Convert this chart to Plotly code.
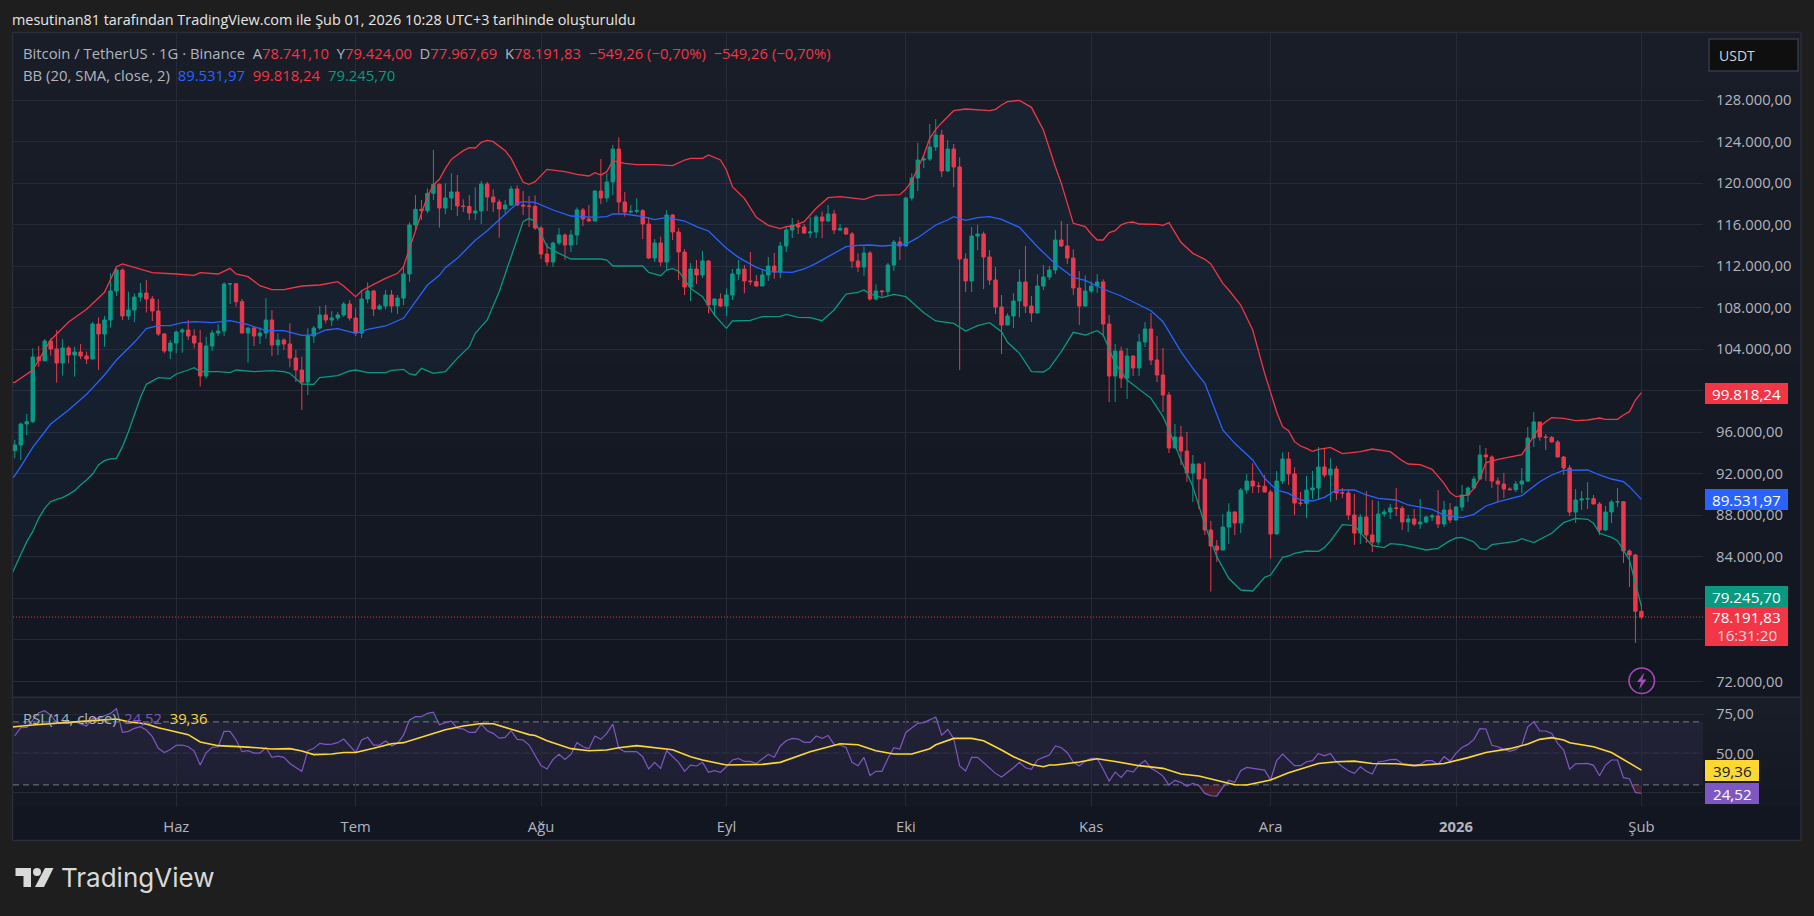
import pandas as pd
import plotly.graph_objects as go

FIRST_DAY = "2025-05-05"
LAST_DAY = "2026-02-01"
first_open = 94220

closes = [
94766,96789,97014,103243,102890,104785,104014,102665,104110,103436,
103725,103340,103051,106422,105459,106808,109601,111624,107193,107771,
109023,109409,108831,107675,105459,103821,104592,105652,105844,105266,
104592,101413,104303,105555,105748,110275,110308,108574,105555,106037,
105266,105555,106808,104399,104881,104496,103147,101991,100835,105266,
106037,107289,106808,107000,107289,108349,107000,105555,108831,109601,
107867,108156,109216,108156,108927,111239,115959,117468,117340,119009,
119876,117596,118559,119137,117789,117740,117114,117307,119908,118656,
118174,117500,117885,119426,117885,117789,117757,115669,113165,112394,
114224,114995,114032,114995,117403,116536,116344,119234,118559,120101,
123279,118174,117211,117275,117339,116055,112779,114224,112394,116922,
115284,113357,109986,111720,111142,112490,108252,108830,108156,109215,
111238,111720,110564,110500,110082,111142,112009,111431,113935,115477,
115958,115766,115188,115284,116729,116344,117018,115477,115637,115091,
112490,111912,113261,108830,109601,109536,112105,114321,113936,118559,
120486,122220,122316,123472,124628,121160,123280,121546,112683,110564,
114899,115091,112876,110660,108059,106325,107192,108637,110468,108156,
107481,110082,110949,111624,114513,113936,112780,109890,108156,109601,
110082,110468,106422,101413,103821,101220,103339,102183,104688,105940,
102954,101509,99582,94477,95536,94188,92069,92936,91491,86578,
85037,84651,86867,88312,87252,90431,91298,90816,90790,90238,
86192,91298,93417,91973,89179,89150,90432,90624,92647,91877,
92455,90143,90143,88023,86289,87831,86097,85423,88120,88312,
88698,88666,87349,87638,87156,87349,87831,87927,87156,88505,
87542,88794,89950,90624,91491,93803,93611,91299,91010,90528,
90464,91010,91299,95441,96982,95537,95500,95056,93611,92551,
88312,89468,89565,89600,89083,86578,88312,89276,89300,84556,
84170,78741.10,78191.83]

highs = [
95248,96918,97753,104078,104303,104977,105042,105844,104977,104303,
104239,104496,103757,106615,107064,107193,111303,111785,111785,109537,
109376,110372,110661,109120,108798,105555,104881,105780,106005,106808,
105909,105844,105202,105844,106422,110436,110372,110340,108831,106101,
106230,106101,108895,107771,105523,105042,106486,103918,103275,106005,
106230,108156,108253,107675,107578,108542,108734,107931,109697,110436,
109697,108349,109697,109697,109216,111945,116200,118849,118367,119491,
123183,119972,119972,120935,120775,118431,118848,119587,120197,120101,
119394,118431,118367,119715,119779,119234,118752,118816,115862,114192,
114353,115669,115156,115477,117660,117596,117885,119330,122316,120935,
123665,124403,119137,117885,118527,117500,116697,114610,114834,117403,
117018,115669,113646,112298,112587,113454,112587,108894,109376,109857,
111720,112587,112105,113357,111142,111623,112876,113261,114321,115862,
116633,116440,116055,116729,116922,117243,117885,117403,116055,115766,
115284,113229,113871,113454,110243,109697,112298,114513,114802,118656,
120935,123890,122702,125688,126169,125110,124146,123761,122477,113229,
115766,115958,115316,113550,111913,109215,107449,109376,111688,113936,
109119,111206,112105,112009,115477,116344,116055,113614,111527,111110,
110532,111238,110725,107289,104495,104238,104110,103403,105458,106614,
107481,105266,104110,99871,96789,96596,96018,93803,93000,93128,
87445,85614,88119,89147,88376,90624,91972,93000,91202,91876,
90431,92261,94059,94092,92615,90239,91780,92262,94574,94478,
93482,92744,90624,90432,90046,88120,90335,89468,89372,88569,
89083,90624,88890,88023,88601,89565,87927,88120,90432,89372,
89179,88890,90913,90753,91780,94767,94478,93771,91652,92069,
90689,91299,92551,96500,97945,96982,95826,95634,95248,93707,
92840,90528,90335,91202,89950,89276,88890,89468,90624,89372,
84716,84267,79424.00]

lows = [
93482,93321,95730,96886,102312,102794,103372,100771,101445,102633,
101349,103051,102569,103019,101991,104239,106069,109120,106808,106808,
106615,108574,107514,106711,105266,103597,103051,103597,103661,104881,
104078,100386,101156,103821,105266,105266,108349,108092,105523,102698,
104303,104496,105009,103340,103436,103918,102248,100835,98138,99583,
104592,105844,106486,106230,106743,107129,106743,105266,105074,108413,
107193,107771,107835,107514,107386,108253,110500,115477,116440,117083,
118367,115701,117018,117403,116825,117211,116440,116440,116055,117307,
117211,114738,117082,117789,117789,116922,115766,115477,112683,112009,
111912,114032,112587,113357,114032,115862,116279,116344,117981,118174,
118848,117082,116761,117082,117082,114610,112683,112394,112009,111623,
114513,110660,109215,108637,110275,110853,107449,107289,108059,107192,
108734,110660,109376,110179,110018,110082,110564,110789,110853,113357,
114706,115091,115091,114706,114706,114706,116247,115091,115380,114995,
111816,111431,111046,108669,108669,109055,109119,111527,112587,113936,
118302,119234,121449,122124,123087,120582,121064,119619,101991,109504,
109504,113550,109793,110179,107385,103532,106293,106036,107064,107481,
106614,107449,109697,110660,111238,113839,112202,109215,106325,108091,
109408,109408,105202,98908,98908,100257,99197,101413,101413,104206,
102472,100835,97945,93995,94477,92839,91202,89275,88601,86096,
80637,83495,84651,85229,86096,86289,90046,90142,90142,90206,
83816,86192,91009,90913,88023,88890,87734,89565,89468,91620,
89276,89468,89661,87542,85134,85230,85326,84459,85134,87831,
87638,87927,86578,86386,86964,86675,87221,87445,86771,86867,
87253,87510,88409,89276,90496,91395,91299,90624,89276,89661,
90400,90239,90111,91202,94574,95184,94285,95023,93578,91877,
87927,87253,88505,88601,89051,86097,86482,87253,88794,83400,
81088,75693,77967.69]

upper_day = [-1,0,3,6,9,12,15,17,18,21,23,27,30,31,34,36,37,39,41,43,45,48,51,54,55,57,58,60,62,64,65,
66,67,68,69,70,71,72,73,75,76,77,78,79,80,82,83,85,86,87,89,92,94,96,97,98,99,100,102,104,107,110,112,113,115,116,118,119,120,122,124,126,128,129,130,132,134,136,138,141,
142,144,148,149,150,151,152,153,154,155,157,159,162,163,164,165,166,168,170,172,174,175,177,179,180,181,182,183,184,185,186,187,188,191,192,193,195,197,199,200,202,203,205,207,209,211,212,
213,214,215,216,217,218,220,222,225,227,230,232,233,235,237,239,240,241,243,244,245,246,248,252,253,254,255,256,257,259,261,263,265,266,268,269,270,271,272]
upper = [100750,100803,101991,104881,106615,107835,109473,111945,112202,111688,111367,111239,111110,111367,111239,111785,111239,110982,110115,109730,109730,110083,110179,110500,110083,109055,109633,110243,110821,111303,111945,
113711,115477,117083,118688,119812,120357,121417,122284,123119,123408,123376,123922,124114,123986,123119,122380,120068,119876,120133,121321,121096,120839,120679,121000,120775,121096,122156,121899,121770,121770,121674,122220,122380,122380,122701,122220,121256,119651,118527,116697,115926,115605,115797,115862,116279,117564,118591,118688,118495,
118431,118816,118880,119394,120229,121417,122702,124307,125174,125816,126972,127133,127036,126972,127101,127518,127839,127968,127293,125110,121578,119972,116119,115798,115091,114513,114513,115220,115413,115968,116183,116247,116055,116023,115926,116183,114289,113229,112651,112202,110339,109697,108252,105844,101669,97977,96532,
96147,95088,94670,94445,94156,94349,94542,93932,94124,94381,94124,93257,92936,92872,92422,91074,90175,89789,89950,90592,91556,93065,93386,93835,94767,95730,96532,97014,97400,97335,97111,97175,97367,97239,97239,97656,97977,99101,99818.24]

basis_day = [-1,0,1,3,6,9,12,15,17,20,22,24,26,28,30,33,35,36,39,42,45,47,48,50,52,54,57,59,62,65,67,69,
71,72,74,76,77,79,81,83,84,85,87,90,93,97,99,100,102,105,107,109,112,114,116,119,121,124,126,130,132,134,136,138,139,141,
143,145,149,151,154,156,157,159,161,163,165,168,171,174,177,179,182,185,188,190,192,195,197,199,202,204,207,209,211,
213,215,217,219,221,224,226,228,231,233,237,239,242,244,246,248,252,255,257,259,263,265,267,269,270,272]
basis = [91200,91812,92679,94542,96789,98138,99647,101509,102954,104656,105973,106262,106262,106551,106647,106551,106679,106743,106358,105780,105780,105523,105330,105363,105844,105973,105523,105908,106230,106968,108574,110179,
111110,111848,112747,113839,114481,115412,116440,117564,118046,118206,118142,117403,116825,116697,116761,117018,117018,116761,116472,116697,116344,115798,115380,113710,112844,111880,111463,111399,111720,112266,112908,113615,113871,114000,
114032,113936,114096,114738,115958,116440,116761,116408,116665,116761,116504,115733,113871,112202,110917,110628,109794,109119,108252,107706,106647,103757,102151,100706,96211,94926,93320,91554,90431,
90111,89468,89372,89725,90432,90432,89950,89629,89468,88987,88569,88023,87767,88088,88890,89276,89886,91234,91877,92326,92358,91877,91491,91235,90753,89531.97]

lower_day = [-1,0,1,2,3,4,5,6,7,8,9,10,11,12,13,14,15,16,17,18,19,20,21,22,23,24,26,27,29,30,31,34,36,37,40,43,45,46,48,50,51,54,56,57,59,62,63,65,66,67,68,70,71,
72,73,74,76,77,79,81,83,85,86,87,89,91,93,97,98,99,100,105,106,108,109,110,111,113,115,117,119,120,123,125,128,129,131,133,135,137,139,141,
142,143,145,147,149,152,154,157,159,161,163,165,166,168,170,172,173,175,177,179,181,182,184,186,188,190,192,193,195,197,199,201,203,205,207,209,210,212,213,
214,216,218,219,220,222,224,226,227,229,230,232,236,238,240,241,242,244,245,246,247,251,252,254,257,259,261,263,264,265,267,268,270,271,272]
lower = [81700,83000,84331,85455,86418,87702,88666,89308,89533,89693,90014,90368,90913,91395,91973,92840,93257,93418,93482,94606,96051,97753,99326,100610,100964,101253,101188,101606,101991,102216,101831,101831,101734,101991,101831,101927,101831,101670,100642,100610,101253,101445,101895,101991,101734,101734,101959,102056,101606,101509,102152,101670,101766,
101830,102473,103115,104238,105523,106807,109537,112908,116280,116601,116279,113871,113229,112683,112651,112683,112587,112009,112009,111399,111078,111623,111752,111527,109857,109055,107289,106004,106711,106775,107128,107160,107353,107064,107032,106743,107770,109311,109472,
109697,109312,108958,109279,109054,107514,106711,106486,105747,106261,106550,105684,104656,103596,101830,101798,102151,103757,105619,105362,105780,105362,102633,101027,100128,99261,97496,96211,93320,90752,87059,84009,81922,80798,80702,82018,82243,83945,84074,
84331,84556,84523,84876,85519,87092,86996,85680,85069,84877,85262,85166,84652,84812,85550,85808,85872,85423,84812,84684,85166,85487,85743,85358,86257,87285,87702,87606,87221,86257,85872,85551,83688,81441,79245.70]

rsi = [
61.2,66.3,66.5,71.2,75.8,77.1,74.3,69.7,69.5,69.1,70.1,68.6,67.4,72.2,72.2,73.9,75.4,78.4,63.3,64.0,65.9,66.9,64.8,60.6,53.2,50.6,52.5,55.1,55.3,54.2,
51.5,42.6,50.4,53.8,54.2,64.0,64.0,58.5,51.1,51.7,50.2,50.2,53.6,47.5,48.3,47.5,43.6,41.1,38.6,51.7,53.2,56.4,55.7,55.9,56.8,59.1,54.9,50.6,58.5,60.2,
55.3,55.3,57.8,54.7,56.4,61.6,71.2,73.3,73.3,75.4,76.2,68.2,69.5,70.5,65.9,65.5,63.3,63.3,68.6,64.4,62.7,59.7,60.2,64.4,58.9,58.5,55.3,
48.9,42.2,40.1,46.2,49.4,46.2,49.4,56.8,54.2,53.0,61.0,58.9,62.7,68.6,53.2,51.1,51.1,51.1,47.9,40.1,44.3,40.5,51.7,47.9,44.3,38.6,42.6,42.0,44.3,38.0,
39.0,38.0,41.5,45.8,46.8,44.9,44.9,43.6,46.8,49.4,47.5,54.7,58.0,59.5,59.1,57.0,57.0,61.0,59.5,61.4,55.7,55.3,53.8,44.3,42.2,47.5,36.0,38.6,38.6,46.8,
53.6,52.8,63.3,66.5,69.1,69.5,71.2,73.1,61.6,65.2,59.5,42.0,38.8,47.5,47.5,44.3,40.9,37.3,35.0,37.7,40.9,44.3,40.9,39.9,45.8,47.5,48.9,
54.7,53.6,50.4,44.5,42.0,45.1,46.8,46.8,39.9,32.4,38.1,34.8,39.2,38.1,42.6,45.4,40.5,38.4,35.6,29.9,32.9,31.6,29.1,31.0,29.5,24.6,23.1,22.9,28.4,32.9,
31.6,39.0,41.1,40.5,40.3,39.4,33.1,45.4,49.6,46.2,42.2,42.2,44.7,45.4,50.0,48.5,50.0,44.7,41.5,39.0,37.3,41.5,38.6,36.9,44.7,45.1,46.0,46.2,43.6,43.0,
42.6,43.0,45.4,45.4,43.0,47.9,45.1,50.0,53.8,55.7,58.9,65.7,65.5,55.1,54.2,52.5,51.3,52.5,55.3,66.9,70.1,64.2,64.2,62.7,56.4,52.1,39.9,43.4,43.6,43.6,
42.4,35.8,42.6,45.8,45.8,34.6,33.9,25.2,24.52]

rsi_ma_day = [-1,0,3,6,9,13,17,19,22,24,29,31,34,39,43,46,48,50,53,55,57,60,63,65,68,72,75,78,80,84,86,
87,89,93,96,99,101,104,107,110,113,115,119,123,125,128,133,138,141,144,147,150,153,154,157,160,162,165,167,170,172,173,
174,178,181,184,188,192,195,198,201,204,206,210,213,218,221,224,227,231,234,239,243,246,250,253,255,257,259,260,264,267,272]
rsi_ma = [66.7,66.9,68.0,69.0,69.7,70.8,71.8,70.1,68.6,66.3,61.9,57.2,54.9,54.0,52.8,53.0,51.5,49.2,49.6,50.6,50.6,53.2,56.1,56.8,60.2,65.0,67.4,69.0,68.8,64.2,61.9,
61.4,58.0,53.0,51.7,52.1,53.6,54.9,53.6,52.3,47.9,45.8,42.6,43.0,43.0,44.3,51.1,56.1,55.5,51.7,49.6,49.6,53.0,55.5,59.5,59.5,58.0,52.1,47.9,43.0,41.5,42.6,
42.6,44.5,46.6,44.9,42.2,40.5,36.9,35.6,32.9,30.1,29.9,33.1,37.7,43.6,44.7,45.1,43.6,43.4,42.2,43.6,47.3,50.6,53.0,55.9,58.9,60.0,58.5,56.8,54.2,50.6,39.36]

# labels that sit under a last-value badge in the reference are left blank
price_ticks = [128000,124000,120000,116000,112000,108000,104000,100000,96000,92000,88000,84000,80000,76000,72000]
price_labels = ["128.000,00","124.000,00","120.000,00","116.000,00","112.000,00","108.000,00","104.000,00","","96.000,00","92.000,00","88.000,00","84.000,00","","","72.000,00"]
rsi_ticks = [75,50,25]
rsi_labels = ["75,00","50,00",""]
month_ticks = ["2025-06-01","2025-07-01","2025-08-01","2025-09-01","2025-10-01","2025-11-01","2025-12-01","2026-01-01","2026-02-01"]
month_labels = ["Haz","Tem","Ağu","Eyl","Eki","Kas","Ara","<b>2026</b>","Şub"]

days = pd.date_range(FIRST_DAY, LAST_DAY)
for name, s, n in [("closes",closes,273),("highs",highs,273),("lows",lows,273),("rsi",rsi,273),
                   ("upper",upper,len(upper_day)),("basis",basis,len(basis_day)),
                   ("lower",lower,len(lower_day)),("rsi_ma",rsi_ma,len(rsi_ma_day))]:
    if len(s) != n:
        raise SystemExit(f"{name} has {len(s)} values, expected {n}")
opens = [first_open] + closes[:-1]
opens[-1] = 78741.10
on_days = lambda idx: [days[0] + pd.Timedelta(days=i) for i in idx]

GREEN, RED, BLUE, PURPLE, YELLOW = "#089981", "#F23645", "#2962FF", "#7E57C2", "#FDD835"
GRID = "#262a36"
TEXT = "#b2b5be"
FONT = "Open Sans"

# pixel helpers (plot box: x 13..1703, y 33..806)
L, R, T, B = 13, 1703, 33, 806
SPLIT = 697.3
px = lambda x: (x - L) / (R - L)
py = lambda y: (B - y) / (B - T)

fig = go.Figure()
xa = dict(xaxis="x", yaxis="y", hoverinfo="skip", showlegend=False)
xb = dict(xaxis="x2", yaxis="y2", hoverinfo="skip", showlegend=False)

# Bollinger bands first, candles on top
fig.add_trace(go.Scatter(x=on_days(lower_day), y=lower, mode="lines", line=dict(color=GREEN, width=1.3), **xa))
fig.add_trace(go.Scatter(x=on_days(upper_day), y=upper, mode="lines", line=dict(color=RED, width=1.3),
                         fill="tonexty", fillcolor="rgba(33,150,243,0.05)", **xa))
fig.add_trace(go.Scatter(x=on_days(basis_day), y=basis, mode="lines", line=dict(color=BLUE, width=1.3), **xa))
fig.add_trace(go.Candlestick(x=days, open=opens, high=highs, low=lows, close=closes,
                             increasing=dict(line=dict(color=GREEN, width=1), fillcolor=GREEN),
                             decreasing=dict(line=dict(color=RED, width=1), fillcolor=RED),
                             whiskerwidth=0, hoverinfo="skip", showlegend=False, xaxis="x", yaxis="y"))

# RSI pane: overbought / oversold shading, then the lines
fig.add_trace(go.Scatter(x=days, y=[30]*len(days), mode="lines", line=dict(width=0), **xb))
fig.add_trace(go.Scatter(x=days, y=[min(v, 30) for v in rsi], mode="lines", line=dict(width=0),
                         fill="tonexty", fillcolor="rgba(242,54,69,0.22)", **xb))
fig.add_trace(go.Scatter(x=days, y=[70]*len(days), mode="lines", line=dict(width=0), **xb))
fig.add_trace(go.Scatter(x=days, y=[max(v, 70) for v in rsi], mode="lines", line=dict(width=0),
                         fill="tonexty", fillcolor="rgba(8,153,129,0.12)", **xb))
fig.add_trace(go.Scatter(x=days, y=rsi, mode="lines", line=dict(color=PURPLE, width=1.2), **xb))
fig.add_trace(go.Scatter(x=on_days(rsi_ma_day), y=rsi_ma, mode="lines", line=dict(color=YELLOW, width=1.6), **xb))

shapes, notes = [], []

def band(y0, y1, c0, c1, n, x0=L, x1=1801):
    for k in range(n):
        t = k / (n - 1)
        col = "rgb(%d,%d,%d)" % tuple(round(a + (b - a) * t) for a, b in zip(c0, c1))
        a, b = y0 + (y1 - y0) * k / n, y0 + (y1 - y0) * (k + 1) / n
        shapes.append(dict(type="rect", xref="paper", yref="paper", x0=px(x0), x1=px(x1), y0=py(a), y1=py(b),
                           fillcolor=col, line=dict(width=0), layer="below"))

TOPC, BOTC = (25, 29, 40), (18, 22, 33)
band(T, SPLIT, TOPC, BOTC, 24)
band(SPLIT, B, TOPC, (20, 24, 35), 6)
band(B, 840, BOTC, BOTC, 2)
shapes.append(dict(type="rect", xref="paper", yref="paper", x0=px(12.5), x1=px(1801), y0=py(32.5), y1=py(840.5),
                   line=dict(color="#2a2d35", width=1.5), fillcolor="rgba(0,0,0,0)", layer="below"))
shapes.append(dict(type="line", xref="paper", yref="paper", x0=px(L), x1=px(1801), y0=py(SPLIT), y1=py(SPLIT),
                   line=dict(color="#2a2e39", width=1.5), layer="below"))
shapes.append(dict(type="rect", xref="paper", yref="y2", x0=0, x1=1, y0=30, y1=70,
                   fillcolor="rgba(126,87,194,0.1)", line=dict(width=0), layer="below"))
for level in (70, 50, 30):
    shapes.append(dict(type="line", xref="paper", yref="y2", x0=0, x1=1, y0=level, y1=level,
                       line=dict(color="#787B86", width=1, dash="6px,4px"), layer="below"))
shapes.append(dict(type="line", xref="paper", yref="y", x0=0, x1=1, y0=closes[-1], y1=closes[-1],
                   line=dict(color=RED, width=1, dash="1px,2px"), layer="above"))

def rect_px(x0, x1, y0, y1, fill, line=None, width=0):
    shapes.append(dict(type="rect", xref="paper", yref="paper", x0=px(x0), x1=px(x1), y0=py(y0), y1=py(y1),
                       fillcolor=fill, line=dict(width=width, color=line or fill)))

def label(x, y, text, size=13, color=TEXT, anchor="left", family=FONT):
    notes.append(dict(xref="paper", yref="paper", x=px(x), y=py(y), text=text, showarrow=False,
                      xanchor=anchor, yanchor="middle", font=dict(size=size, color=color, family=family)))

# last-value badges
BADGE = 15.2
rect_px(1705, 1788, 383, 404, RED);    label(1746.5, 393.5, "99.818,24", BADGE, "#ffffff", "center")
rect_px(1705, 1788, 489, 510, BLUE);   label(1746.5, 499.5, "89.531,97", BADGE, "#ffffff", "center")
rect_px(1705, 1788, 586, 607, GREEN);  label(1746.5, 596.5, "79.245,70", BADGE, "#ffffff", "center")
rect_px(1705, 1788, 607, 646, RED)
label(1746.5, 617, "78.191,83", BADGE, "#ffffff", "center")
label(1746.5, 635, "16:31:20", BADGE, "#ffd6da", "center")
rect_px(1705, 1759, 760, 781, YELLOW); label(1732, 770.5, "39,36", BADGE, "#131722", "center")
rect_px(1705, 1759, 783, 804, PURPLE); label(1732, 793.5, "24,52", BADGE, "#ffffff", "center")

# currency button
shapes.append(dict(type="rect", xref="paper", yref="paper", x0=px(1709), x1=px(1798), y0=py(39), y1=py(71),
                   fillcolor="#0f0f0f", line=dict(color="#363a45", width=1.5)))
label(1717, 55, "USDT", 14, "#d1d4dc")

def poly(points):
    return "M" + " L".join(f"{px(x):.5f},{py(y):.5f}" for x, y in points) + " Z"

# pending-event marker
shapes.append(dict(type="circle", xref="paper", yref="paper", x0=px(1629), x1=px(1654.5), y0=py(668), y1=py(693.5),
                   fillcolor="rgba(0,0,0,0)", line=dict(color="#AB47BC", width=1.6)))
shapes.append(dict(type="path", xref="paper", yref="paper", fillcolor="#AB47BC", line=dict(width=0),
                   path=poly([(1644.5,672.5),(1637,682),(1641,682),(1639,689.5),(1646.5,679.5),(1642.3,679.5)])))

# header and legends
label(10, 19.5, "mesutinan81 tarafından TradingView.com ile Şub 01, 2026 10:28 UTC+3 tarihinde oluşturuldu", 14.4, "#e6e6e6")
r = lambda s: f'<span style="color:{RED}">{s}</span>'
nb = "\u00a0\u00a0"
label(21, 53, "Bitcoin / TetherUS · 1G · Binance" + nb + "A" + r("78.741,10") + nb + "Y" + r("79.424,00") + nb + "D" + r("77.967,69")
      + nb + "K" + r("78.191,83") + nb + r("−549,26 (−0,70%)") + nb + r("−549,26 (−0,70%)"), 14.8)
label(21, 75, f'BB (20, SMA, close, 2){nb}<span style="color:{BLUE}">89.531,97</span>{nb}{r("99.818,24")}{nb}<span style="color:{GREEN}">79.245,70</span>', 14.9)
label(21, 718, f'RSI (14, close){nb}<span style="color:{PURPLE}">24,52</span>{nb}<span style="color:{YELLOW}">39,36</span>', 14.8)

# TradingView wordmark
for pts in ([(15.5,868),(31,868),(31,887),(23.5,887),(23.5,876),(15.5,876)],
            [(45,868),(53.5,868),(44,887),(35,887)]):
    shapes.append(dict(type="path", xref="paper", yref="paper", path=poly(pts), fillcolor="#d9d9d9", line=dict(width=0)))
shapes.append(dict(type="circle", xref="paper", yref="paper", x0=px(33), x1=px(41), y0=py(868), y1=py(876),
                   fillcolor="#d9d9d9", line=dict(width=0)))
label(59, 878, "TradingView", 26, "#d9d9d9", family="Inter")

split_frac = (B - SPLIT) / (B - T)
first = pd.Timestamp(LAST_DAY) - pd.Timedelta(days=272.3)
last = pd.Timestamp(LAST_DAY) + pd.Timedelta(days=10.3)
axis_common = dict(type="date", range=[first, last], tickmode="array", tickvals=month_ticks,
                   showgrid=True, gridcolor=GRID, gridwidth=1, zeroline=False, rangeslider=dict(visible=False))
tick_font = dict(size=14.8, color=TEXT, family=FONT)

fig.update_layout(
    width=1814, height=916, margin=dict(l=L, r=1814 - R, t=T, b=916 - B, pad=0),
    paper_bgcolor="#1e1e1e", plot_bgcolor="rgba(0,0,0,0)", boxgap=0.18,
    showlegend=False, hovermode=False, dragmode=False,
    xaxis=dict(axis_common, domain=[0, 1], anchor="y", showticklabels=False, ticks=""),
    xaxis2=dict(axis_common, domain=[0, 1], anchor="y2", ticktext=month_labels, tickfont=tick_font,
                ticks="outside", ticklen=7, tickcolor="rgba(0,0,0,0)"),
    yaxis=dict(domain=[split_frac, 1], side="right", range=[70462, 134454], tickmode="array",
               tickvals=price_ticks, ticktext=price_labels, tickfont=tick_font, showgrid=True, gridcolor=GRID,
               zeroline=False, ticks="outside", ticklen=9, tickcolor="rgba(0,0,0,0)"),
    yaxis2=dict(domain=[0, split_frac], side="right", range=[16.6, 85.6], tickmode="array",
                tickvals=rsi_ticks, ticktext=rsi_labels, tickfont=tick_font, showgrid=True, gridcolor=GRID,
                zeroline=False, ticks="outside", ticklen=9, tickcolor="rgba(0,0,0,0)"),
    shapes=shapes, annotations=notes,
)

fig.write_html("out.html", config={"displayModeBar": False},
               post_script="document.body.style.margin='0';document.body.style.overflow='hidden';")
